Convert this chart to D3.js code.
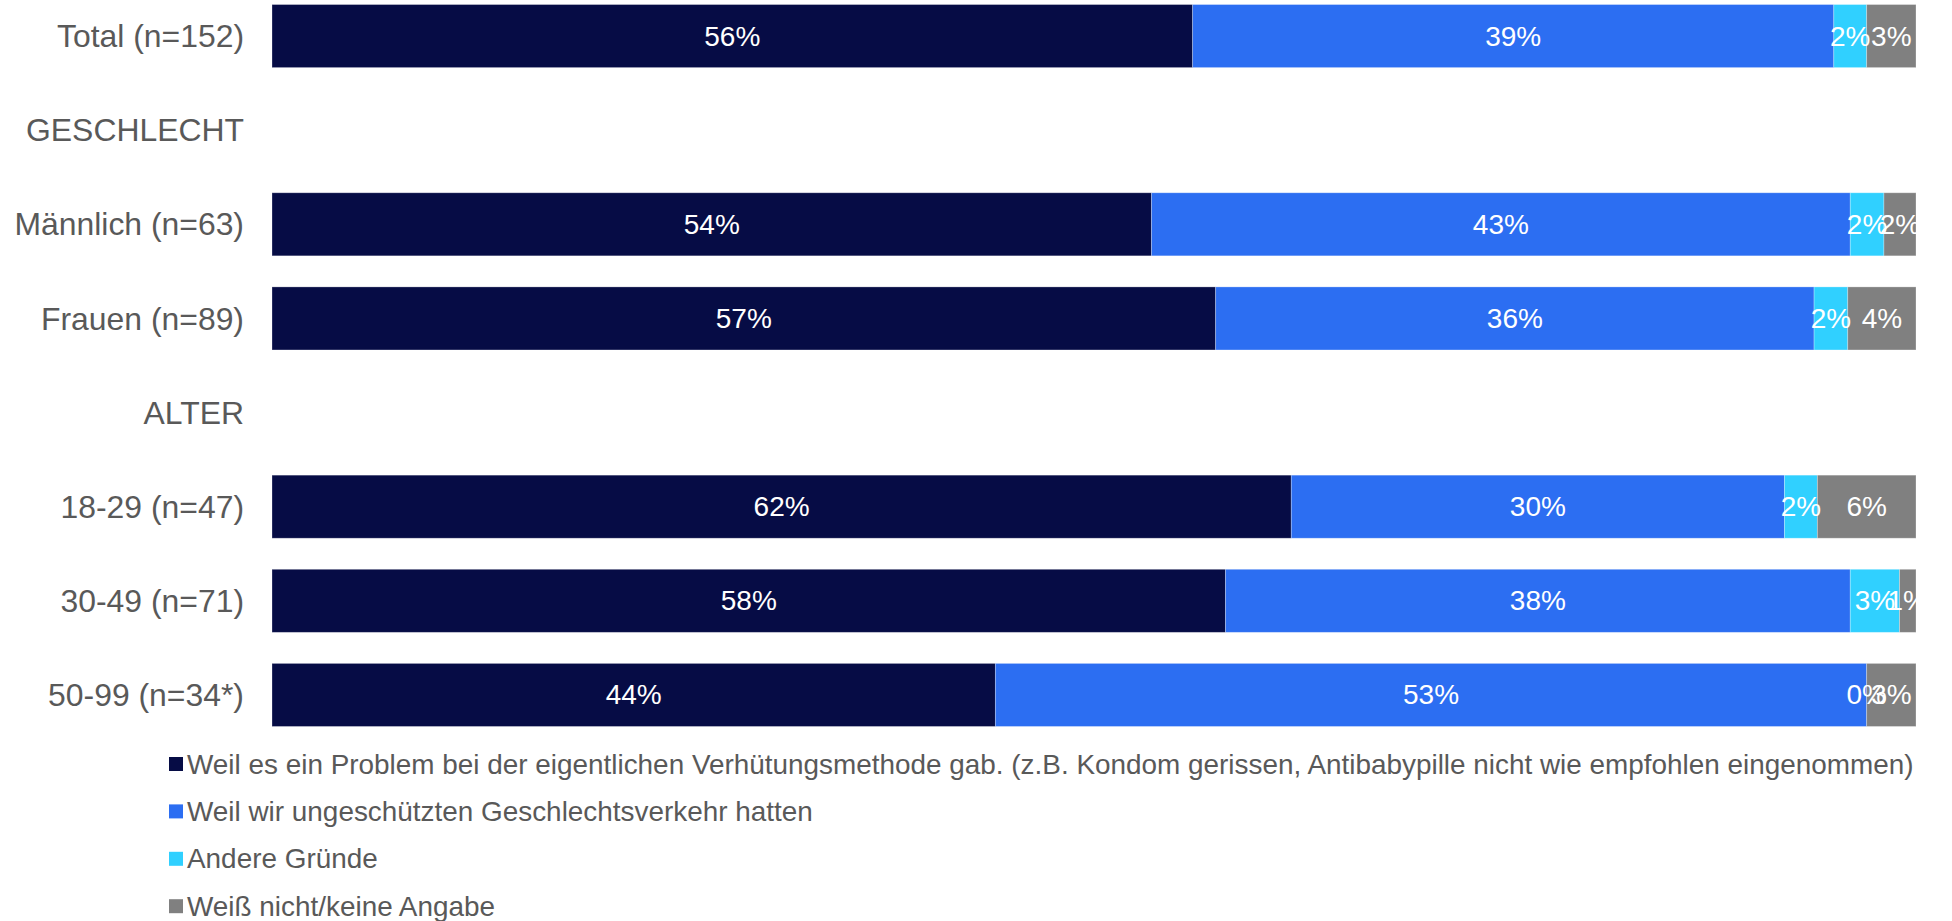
<!DOCTYPE html>
<html>
<head>
<meta charset="utf-8">
<script src="https://cdn.jsdelivr.net/npm/d3@7"></script>
<style>
  html, body { margin: 0; padding: 0; background: #fff; }
  svg { display: block; }
  text { font-family: "Liberation Sans", Arial, sans-serif; }
</style>
</head>
<body>
<svg id="chart" width="1952" height="921"></svg>
<script>
// Row labels (group headers have no bar)
const categories = [
  "Total (n=152)", "GESCHLECHT", "Männlich (n=63)", "Frauen (n=89)",
  "ALTER", "18-29 (n=47)", "30-49 (n=71)", "50-99 (n=34*)"
];

// Shares in percent, one array per answer
const problemMethod = [56.0, null, 53.5, 57.4, null, 62.0, 58.0, 44.0];
const unprotected   = [39.0, null, 42.5, 36.4, null, 30.0, 38.0, 53.0];
const otherReasons  = [2.0,  null, 2.05, 2.05, null, 2.0,  3.0,  0.0];
const dontKnow      = [3.0,  null, 1.95, 4.15, null, 6.0,  1.0,  3.0];

const seriesNames = [
  "Weil es ein Problem bei der eigentlichen Verhütungsmethode gab. (z.B. Kondom gerissen, Antibabypille nicht wie empfohlen eingenommen)",
  "Weil wir ungeschützten Geschlechtsverkehr hatten",
  "Andere Gründe",
  "Weiß nicht/keine Angabe"
];
const seriesColors = ["#060C45", "#2C6EF2", "#30D0FF", "#808080"];

const keys = ["s0", "s1", "s2", "s3"];
const seriesArrays = [problemMethod, unprotected, otherReasons, dontKnow];
const rows = categories.map((c, i) => {
  const r = { cat: c, header: problemMethod[i] === null };
  keys.forEach((k, j) => { r[k] = seriesArrays[j][i] === null ? 0 : seriesArrays[j][i]; });
  return r;
});

const svg = d3.select("#chart");

const x = d3.scaleLinear().domain([0, 100]).range([272, 1916]);
const y = d3.scaleBand()
  .domain(categories)
  .range([-11, 742])
  .paddingInner(0.33)
  .paddingOuter(0.165);

// Value labels are clipped to the plot area
svg.append("defs").append("clipPath")
  .attr("id", "plot-clip")
  .append("rect")
  .attr("x", x(0))
  .attr("y", 0)
  .attr("width", x(100) - x(0))
  .attr("height", 760);

const stacked = d3.stack().keys(keys)(rows);

// Stacked bars
svg.append("g").selectAll("g")
  .data(stacked)
  .join("g")
  .attr("fill", (d, i) => seriesColors[i])
  .selectAll("rect")
  .data(d => d.filter(p => !p.data.header))
  .join("rect")
  .attr("x", d => x(d[0]))
  .attr("y", d => y(d.data.cat))
  .attr("width", d => x(d[1]) - x(d[0]))
  .attr("height", y.bandwidth())
  .attr("stroke", "rgba(255,255,255,0.35)")
  .attr("stroke-width", 0.8);

// Value labels centred in each segment, drawn above all bars
svg.append("g")
  .attr("clip-path", "url(#plot-clip)")
  .selectAll("g")
  .data(stacked)
  .join("g")
  .selectAll("text")
  .data(d => d.filter(p => !p.data.header))
  .join("text")
  .attr("x", d => (x(d[0]) + x(d[1])) / 2)
  .attr("y", d => y(d.data.cat) + y.bandwidth() / 2)
  .attr("text-anchor", "middle")
  .attr("dominant-baseline", "central")
  .attr("fill", "#fff")
  .attr("font-size", 28)
  .text(d => Math.round(d[1] - d[0]) + "%");

// Category axis on the left, without line and ticks
const yAxis = svg.append("g")
  .attr("transform", "translate(244,0)")
  .call(d3.axisLeft(y).tickSize(0).tickPadding(0));
yAxis.select(".domain").remove();
yAxis.selectAll("text")
  .attr("font-family", "'Liberation Sans', Arial, sans-serif")
  .attr("font-size", 31.9)
  .attr("fill", "#595959")
  .attr("dy", "0.35em");

// Legend
const legend = svg.append("g")
  .selectAll("g")
  .data(seriesNames)
  .join("g")
  .attr("transform", (d, i) => `translate(169,${764 + i * 47.4})`);

legend.append("rect")
  .attr("x", 0)
  .attr("y", -7)
  .attr("width", 14)
  .attr("height", 14)
  .attr("fill", (d, i) => seriesColors[i]);

legend.append("text")
  .attr("x", 18)
  .attr("y", 0)
  .attr("dominant-baseline", "central")
  .attr("font-size", 27.9)
  .attr("fill", "#595959")
  .text(d => d);
</script>
</body>
</html>
